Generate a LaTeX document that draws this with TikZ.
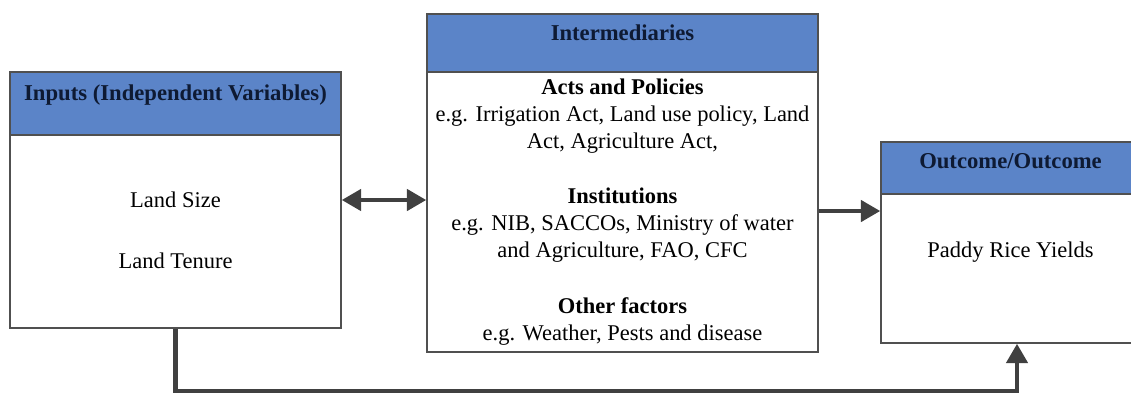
\documentclass[tikz,border=0pt]{standalone}
\usepackage{fontspec}
\setmainfont{Liberation Serif}
\usetikzlibrary{arrows.meta,positioning}
\definecolor{headfill}{HTML}{5B84C8}
\definecolor{headtxt}{HTML}{0E1A33}
\definecolor{ink}{HTML}{404040}
\definecolor{edge}{HTML}{505050}

\begin{document}
\begin{tikzpicture}[x=0.02cm,y=-0.02cm,
  box/.style={draw=edge,line width=0.9pt,fill=white,inner sep=0pt},
  head/.style={draw=edge,line width=0.9pt,fill=headfill,inner sep=0pt},
  ttl/.style={font=\fontsize{12.9}{14}\selectfont\bfseries,text=headtxt},
  body/.style={font=\fontsize{12.8}{15.3}\selectfont,align=center,inner sep=0pt},
  arr/.style={-{Triangle[length=11pt,width=12pt]},line width=2.4pt,ink},
  arrtwo/.style={{Triangle[length=11pt,width=12pt]}-{Triangle[length=11pt,width=12pt]},line width=2.4pt,ink}
]
  \useasboundingbox (0,0) rectangle (1131,393);
  % the three boxes
  \node[box,minimum width=6.62cm,minimum height=5.12cm] (inbox) at (175.5,200) {};
  \node[head,minimum width=6.62cm,minimum height=1.26cm] (inhead) at (175.5,103.5) {};
  \node[box,minimum width=7.82cm,minimum height=6.76cm] (midbox) at (622.5,183) {};
  \node[head,minimum width=7.82cm,minimum height=1.16cm] (midhead) at (622.5,43) {};
  \node[box,minimum width=5.18cm,minimum height=4.02cm] (outbox) at (1010.5,242.5) {};
  \node[head,minimum width=5.18cm,minimum height=1.04cm] (outhead) at (1010.5,168) {};
  % titles
  \node[ttl] (inttl) at (175.5,95) {Inputs (Independent Variables)};
  \node[ttl] (midttl) at (622.5,33) {Intermediaries};
  \node[ttl] (outttl) at (1010.5,161) {Outcome/Outcome};
  % contents
  \node[body] (size) at (175.5,200) {Land Size};
  \node[body] (tenure) at (175.5,261) {Land Tenure};
  \node[body] (mid) at (622.5,212) {\textbf{Acts and Policies}\\
    e.g. Irrigation Act, Land use policy, Land\\
    Act, Agriculture Act,\\[16.5pt]
    \textbf{Institutions}\\
    e.g. NIB, SACCOs, Ministry of water\\
    and Agriculture, FAO, CFC\\[16.5pt]
    \textbf{Other factors}\\
    e.g. Weather, Pests and disease};
  \node[body] (yields) at (1010.5,252) {Paddy Rice Yields};
  % connectors
  \coordinate (mo) at (850,211);
  \coordinate (fb) at (1017,391);
  \draw[arrtwo] (inbox.east) -- (inbox.east -| midbox.west);
  \draw[arr] (mo -| midbox.east) -- (mo -| outbox.west);
  \draw[arr] (inbox.south) |- (fb) -- (fb |- outbox.south);
\end{tikzpicture}
\end{document}
